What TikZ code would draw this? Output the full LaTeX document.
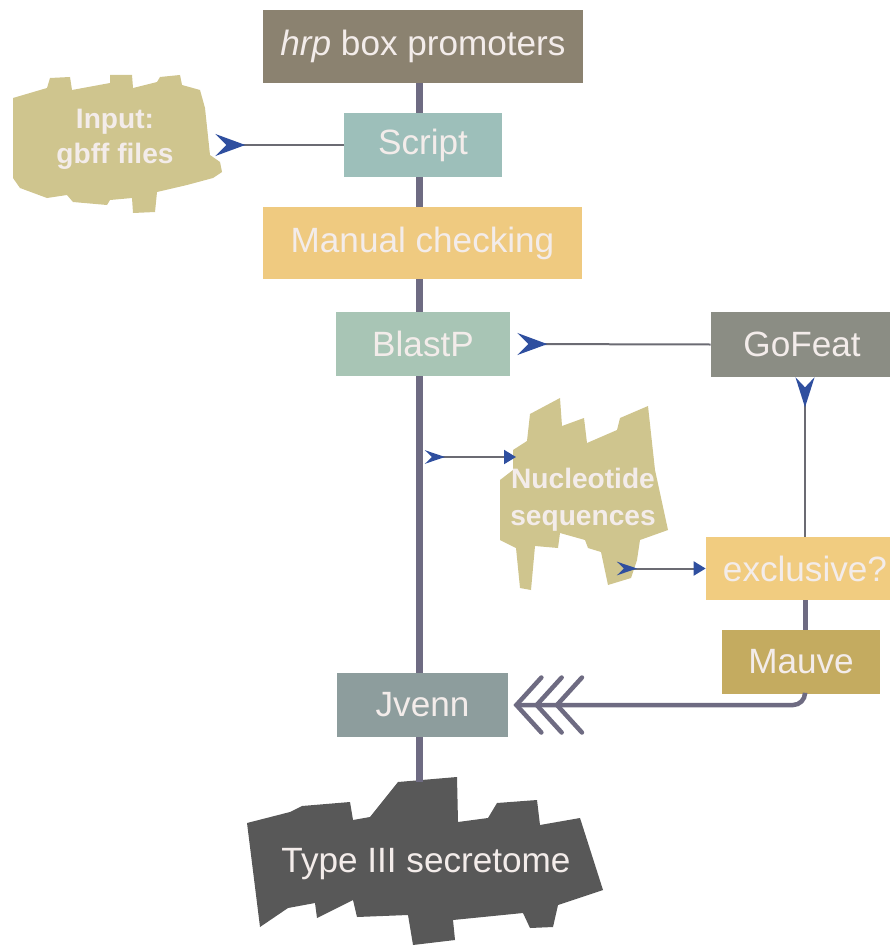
\documentclass[tikz,border=0pt]{standalone}
\usepackage{fontspec}
\setmainfont{Liberation Sans}
\usetikzlibrary{arrows.meta}
\definecolor{hrpcol}{HTML}{8B8270}
\definecolor{scriptcol}{HTML}{9DBFBA}
\definecolor{manualcol}{HTML}{EFCA80}
\definecolor{blastcol}{HTML}{A8C5B5}
\definecolor{gofeatcol}{HTML}{8B8D84}
\definecolor{exclcol}{HTML}{F1CC80}
\definecolor{mauvecol}{HTML}{C4AB60}
\definecolor{jvenncol}{HTML}{8D9D9D}
\definecolor{khaki}{HTML}{CFC58E}
\definecolor{darkblob}{HTML}{585858}
\definecolor{spinecol}{HTML}{6E6B82}
\definecolor{linegray}{HTML}{6B6B73}
\definecolor{tipblue}{HTML}{2F4F9F}
\definecolor{boxtext}{HTML}{F3ECEA}
\tikzset{
  spine/.style={draw=spinecol, line width=0.14cm},
  feed/.style={draw=linegray, line width=0.04cm},
  bigtip/.style={-{Stealth[reversed, length=0.6cm, width=0.44cm, inset=0.22cm, color=tipblue]}},
  smalltip/.style={{Stealth[reversed, length=0.4cm, width=0.27cm, inset=0.14cm, color=tipblue]}-{Triangle[length=0.24cm, width=0.28cm, color=tipblue]}},
  chevron/.tip={Straight Barb[length=0.5cm, width=1.1cm, line cap=round, sep=-0.2cm]},
  blobtext/.style={align=center, font=\bfseries\fontsize{16}{20}\selectfont}
}
\begin{document}
\begin{tikzpicture}[x=0.02cm, y=-0.02cm,
  every node/.style={rectangle, inner sep=0pt, text=boxtext, font=\fontsize{20}{24}\selectfont}]
  \useasboundingbox (0,0) rectangle (889,946);

  % Forme irregolari
  \fill[khaki] (13,98) -- (47,88) -- (50,78) -- (70,77) -- (72,90) -- (110,83) -- (110,75)
    -- (132,75) -- (133,88) -- (157,82) -- (160,77) -- (180,75) -- (182,85) -- (200,90)
    -- (205,108) -- (210,155) -- (220,162) -- (222,172) -- (213,178) -- (187,185) -- (157,192)
    -- (155,212) -- (133,213) -- (132,198) -- (110,200) -- (107,205) -- (73,202) -- (67,195)
    -- (47,198) -- (20,188) -- (13,178) -- cycle;
  \fill[khaki] (513,450) -- (527,441) -- (530,414) -- (560,398) -- (562,426) -- (584,418)
    -- (587,443) -- (617,430) -- (620,418) -- (648,406) -- (655,470) -- (668,530) -- (640,540)
    -- (637,560) -- (631,578) -- (608,585) -- (601,552) -- (588,548) -- (585,540) -- (560,533)
    -- (558,548) -- (535,546) -- (531,590) -- (520,588) -- (516,548) -- (500,540) -- (500,480)
    -- (513,470) -- cycle;
  \fill[darkblob] (247,823) -- (290,812) -- (302,806) -- (350,802) -- (353,820) -- (370,817)
    -- (398,782) -- (457,777) -- (458,822) -- (488,818) -- (497,803) -- (537,800) -- (540,825)
    -- (580,818) -- (603,890) -- (558,905) -- (553,927) -- (530,928) -- (523,913) -- (453,920)
    -- (455,940) -- (413,945) -- (408,915) -- (357,917) -- (353,900) -- (317,918) -- (315,903)
    -- (288,908) -- (260,927) -- cycle;

  % Colonna principale
  \coordinate (axis) at (419,0);
  \node (hrp) at (423,46.5) [fill=hrpcol, minimum width=6.4cm, minimum height=1.46cm] {\textit{hrp} box promoters};
  \node (script) at (423,145) [fill=scriptcol, minimum width=3.16cm, minimum height=1.28cm] {Script};
  \node (manual) at (422.5,243) [fill=manualcol, minimum width=6.38cm, minimum height=1.44cm] {Manual checking};
  \node (blastp) at (423,344) [fill=blastcol, minimum width=3.48cm, minimum height=1.28cm] {BlastP};
  \node (jvenn) at (422.5,705) [fill=jvenncol, minimum width=3.42cm, minimum height=1.28cm] {Jvenn};
  \node (secretome) at (426,864) {Type III secretome};
  \coordinate (secretop) at (419,782);

  % Colonna destra
  \node (gofeat) at (802,344.5) [fill=gofeatcol, minimum width=3.64cm, minimum height=1.3cm] {GoFeat};
  \node (exclusive) at (805,568.5) [fill=exclcol, minimum width=3.96cm, minimum height=1.26cm] {exclusive?};
  \node (mauve) at (801,662) [fill=mauvecol, minimum width=3.16cm, minimum height=1.28cm] {Mauve};

  % Testi delle forme
  \node (input) at (115,139) [blobtext, minimum width=4cm] {Input:\\gbff files};
  \node (nucleo) at (583,500) [blobtext, font=\bfseries\fontsize{16}{21}\selectfont] {Nucleotide\\sequences};
  \coordinate (tap) at (425,457);
  \coordinate (nucin) at (516,457);
  \coordinate (nucout) at (617,568.5);

  % Collegamenti
  \draw[spine] (hrp.south -| axis) -- (script.north -| axis);
  \draw[spine] (script.south -| axis) -- (manual.north -| axis);
  \draw[spine] (manual.south -| axis) -- (blastp.north -| axis);
  \draw[spine] (blastp.south -| axis) -- (jvenn.north -| axis);
  \draw[spine] (jvenn.south -| axis) -- (secretop);
  \draw[spine, line width=0.1cm] (exclusive.south) -- (mauve.north -| exclusive);
  \draw[feed, bigtip] (script.west) -- (script.west -| input.east);
  \draw[feed, bigtip, shorten >=0.14cm] (gofeat.west) -- (blastp.east);
  \draw[feed, -{Stealth[reversed, length=0.6cm, width=0.38cm, inset=0.2cm, color=tipblue]}] (exclusive.north) -- (exclusive.north |- gofeat.south);
  \draw[feed, smalltip] (tap) -- (nucin);
  \draw[feed, smalltip] (nucout) -- (exclusive.west);
  \draw[draw=spinecol, line width=0.09cm, rounded corners=0.24cm, shorten >=0.1cm,
    -{chevron[] chevron[] chevron[sep=0pt]}]
    (mauve.south -| exclusive) |- (jvenn.east);
\end{tikzpicture}
\end{document}
